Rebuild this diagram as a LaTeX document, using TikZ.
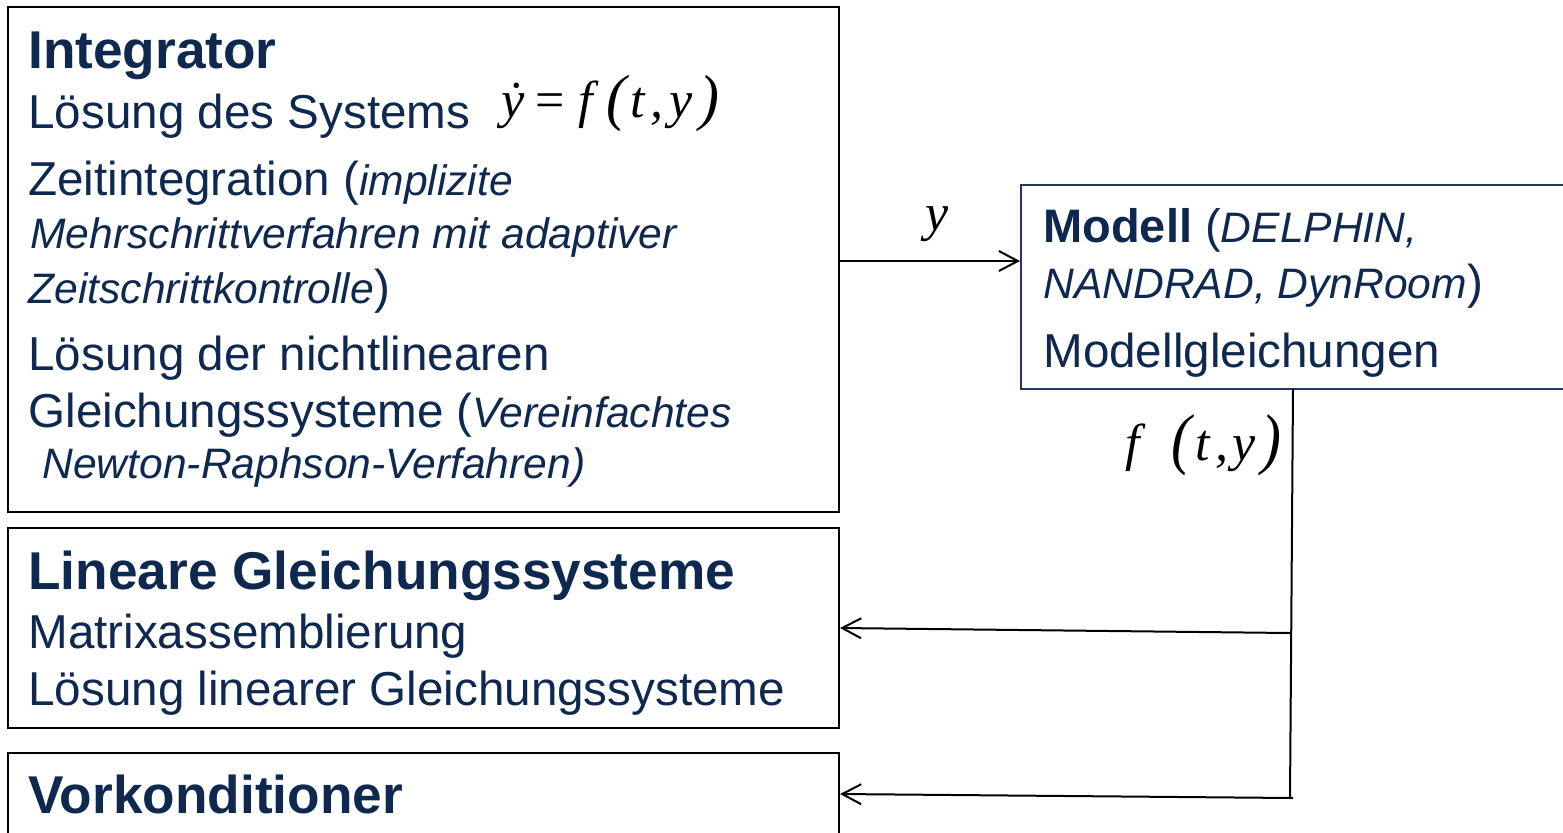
\documentclass[tikz,border=0pt]{standalone}
\usepackage{fontspec}
\setmainfont{Liberation Sans}
\newfontfamily\serifmath{Liberation Serif}
\usepackage{graphicx}
\usetikzlibrary{arrows.meta,fit}
\definecolor{navy}{RGB}{14,40,80}
\definecolor{mblue}{RGB}{31,56,100}
\newcommand\itsm[1]{{\fontsize{21.3}{25}\selectfont\itshape #1}}
\newcommand\bigpar[2]{\raisebox{-0.5pt}{\scalebox{1.15}[#1]{#2}}}
\newcommand\glyphat[2]{\rlap{\hspace{#1}#2}}
\begin{document}
\begin{tikzpicture}[x=0.5pt,y=-0.5pt,
  box/.style={draw=black,line width=1pt,inner sep=0pt},
  mbox/.style={draw=mblue,line width=1pt,inner sep=0pt},
  txt/.style={anchor=base west,inner sep=0pt,text=navy,font=\fontsize{23.8}{28}\selectfont},
  ttl/.style={txt,font=\fontsize{26.6}{32}\selectfont\bfseries},
  itl/.style={txt,font=\fontsize{21.3}{25}\selectfont\itshape},
  mth/.style={anchor=base west,inner sep=0pt,text=black,font=\fontsize{26}{30}\serifmath\itshape},
  conn/.style={line width=1pt,draw=black},
  arr/.style={conn,-{Straight Barb[length=9.5pt,width=10pt,line width=1pt]}}]
\path[use as bounding box] (0,0) rectangle (1563,832);
% boxes
\node[box,fit={(8,7) (839,512)}] (integ) {};
\node[box,fit={(8,528) (839,728)}] (lgs) {};
\node[box,fit={(8,753) (839,860)}] (vork) {};
\node[mbox,fit={(1021,185) (1580,389)}] (modell) {};
% Integrator text
\node[ttl] (i1) at (28,68) {Integrator};
\node[txt] (i2) at (28,128) {Lösung des Systems};
\node[mth] (i3) at (500,117) {\glyphat{0pt}{\.{y}}\glyphat{17pt}{\upshape=}\glyphat{38.5pt}{f}\glyphat{52.5pt}{\bigpar{1.2}{(}}\glyphat{64.5pt}{t}\glyphat{74.5pt}{,}\glyphat{84pt}{y}\glyphat{99pt}{\bigpar{1.2}{)}}};
\node[txt] (i4) at (28,195) {Zeitintegration (\itsm{implizite}};
\node[itl] (i5) at (30,248) {Mehrschrittverfahren mit adaptiver};
\node[txt] (i6) at (28,303) {\itsm{Zeitschrittkontrolle})};
\node[txt] (i7) at (28,370) {Lösung der nichtlinearen};
\node[txt] (i8) at (28,427) {Gleichungssysteme (\itsm{Vereinfachtes}};
\node[itl] (i9) at (42,478) {Newton-Raphson-Verfahren)};
% Lineare
\node[ttl] (l1) at (28,589) {Lineare Gleichungssysteme};
\node[txt] (l2) at (28,648) {Matrixassemblierung};
\node[txt] (l3) at (28,705) {Lösung linearer Gleichungssysteme};
% Vorkonditioner
\node[ttl] (v1) at (28,813) {Vorkonditioner};
% Modell
\node[txt,font=\fontsize{23.5}{28}\selectfont] (m1) at (1043,242) {\textbf{Modell} (\itsm{DELPHIN,}};
\node[txt] (m2) at (1043,298) {\itsm{NANDRAD, DynRoom})};
\node[txt] (m3) at (1043,367) {Modellgleichungen};
% connectors
\coordinate (yrow) at (0,261);
\draw[arr] (integ.east |- yrow) -- (modell.west |- yrow);
\node[mth] (ylab) at (925,230) {y};
\coordinate (mtop) at (1293,389);
\coordinate (j1) at (1290,633);
\coordinate (j2) at (1290,798);
\draw[conn] (mtop) -- (j2);
\draw[arr] (j1) -- (lgs.east |- 0,628);
\draw[arr] ([xshift=1.5]j2) -- (vork.east |- 0,794);
\node[mth] (flab) at (1124,460) {\glyphat{0pt}{f}\glyphat{23pt}{\bigpar{1.3}{(}}\glyphat{35pt}{t}\glyphat{45pt}{,}\glyphat{53.5pt}{y}\glyphat{68pt}{\bigpar{1.3}{)}}};
\end{tikzpicture}
\end{document}
